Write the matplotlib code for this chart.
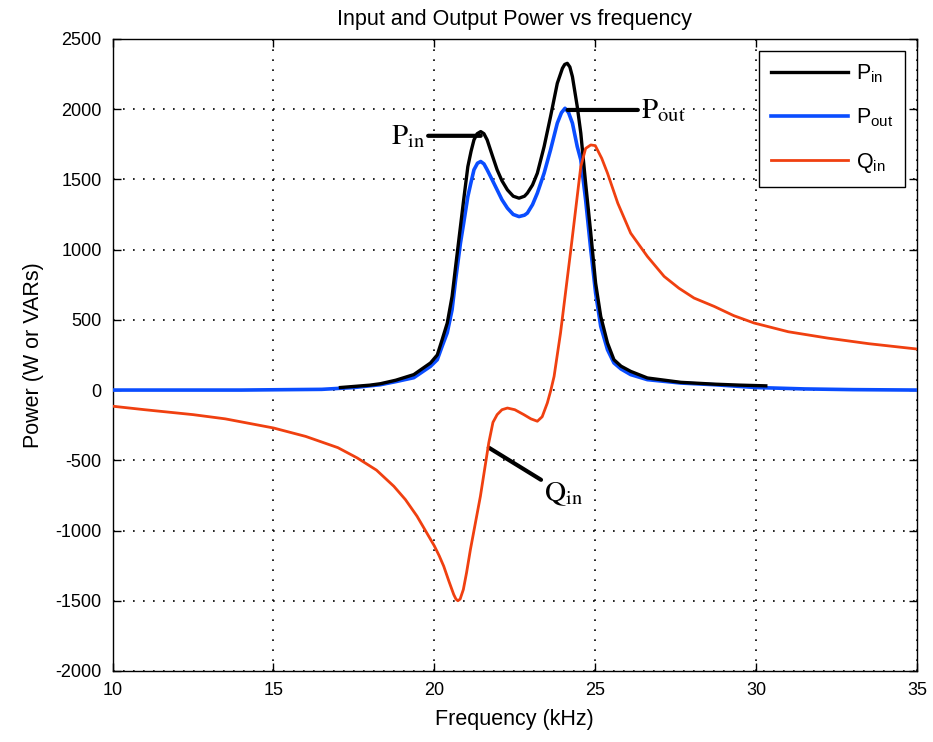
import matplotlib
matplotlib.use("Agg")
import matplotlib.pyplot as plt
from matplotlib import font_manager
from matplotlib.lines import Line2D

# ---------------- data ----------------
pin_freq = [17.08, 18.0, 18.32, 18.8, 19.36, 19.88, 20.09, 20.24, 20.40, 20.55,
            20.66, 20.81, 20.91, 21.04, 21.14, 21.23, 21.33, 21.44, 21.54, 21.64,
            21.80, 21.95, 22.10, 22.27, 22.45, 22.63, 22.80, 22.89, 23.05, 23.20,
            23.41, 23.61, 23.82, 23.98, 24.05, 24.13, 24.21, 24.29, 24.44, 24.55,
            24.70, 24.86, 25.01, 25.17, 25.38, 25.58, 25.80, 26.10, 26.62, 27.66,
            28.70, 29.5, 30.30]
pin_vals = [18, 35, 45, 70, 110, 193, 250, 358, 477, 667,
            880, 1164, 1354, 1591, 1700, 1781, 1825, 1840, 1825, 1781,
            1670, 1568, 1490, 1425, 1380, 1366, 1380, 1402, 1460, 1544,
            1733, 1947, 2184, 2291, 2318, 2326, 2300, 2231, 2018, 1829,
            1473, 1117, 762, 524, 335, 216, 170, 133, 86, 55,
            42, 35, 30]

pout_freq = [10.0, 14.0, 16.5, 17.5, 18.32, 18.8, 19.36, 19.88, 20.09, 20.24,
             20.40, 20.55, 20.66, 20.81, 20.91, 21.04, 21.14, 21.23, 21.34, 21.44,
             21.54, 21.64, 21.80, 21.95, 22.10, 22.27, 22.45, 22.63, 22.80, 22.89,
             23.05, 23.20, 23.41, 23.61, 23.82, 23.95, 24.06, 24.17, 24.29, 24.44,
             24.55, 24.70, 24.86, 25.01, 25.17, 25.38, 25.58, 25.80, 26.10, 26.62,
             27.66, 28.70, 30.0, 31.5, 33.0, 35.0]
pout_vals = [0, 0, 5, 18, 38, 60, 88, 169, 216, 311,
             408, 572, 785, 1046, 1188, 1378, 1480, 1568, 1615, 1627,
             1610, 1568, 1495, 1425, 1355, 1295, 1250, 1235, 1245, 1260,
             1320, 1402, 1544, 1710, 1900, 1975, 2006, 1975, 1900, 1733,
             1639, 1354, 999, 691, 453, 287, 193, 150, 110, 74,
             50, 38, 18, 8, 3, 0]

qin_freq = [10.0, 11.0, 12.5, 13.5, 15.0, 16.0, 17.0, 17.6, 18.2, 18.74,
            19.1, 19.46, 19.72, 20.0, 20.15, 20.29, 20.45, 20.6, 20.67, 20.73,
            20.80, 20.90, 21.0, 21.12, 21.43, 21.69, 21.82, 21.95, 22.1, 22.27,
            22.5, 22.78, 23.0, 23.2, 23.35, 23.51, 23.62, 23.72, 23.92, 24.24,
            24.55, 24.70, 24.86, 25.0, 25.2, 25.38, 25.7, 26.1, 26.62, 27.14,
            27.6, 28.07, 28.7, 29.3, 29.94, 31.0, 32.22, 33.5, 35.0]
qin_vals = [-115, -140, -175, -205, -270, -330, -410, -483, -570, -685,
            -780, -898, -1000, -1110, -1180, -1254, -1360, -1455, -1488, -1500,
            -1488, -1420, -1300, -1135, -756, -376, -230, -175, -140, -128,
            -140, -175, -205, -222, -190, -92, 0, 97, 406, 998,
            1591, 1720, 1745, 1740, 1650, 1544, 1330, 1117, 951, 809,
            725, 655, 595, 530, 477, 415, 370, 330, 292]

x_ticks = [10, 15, 20, 25, 30, 35]
y_ticks = [-2000, -1500, -1000, -500, 0, 500, 1000, 1500, 2000, 2500]

title = "Input and Output Power vs frequency"
xlabel = "Frequency (kHz)"
ylabel = "Power (W or VARs)"
legend_labels = [r"$\mathregular{P_{in}}$", r"$\mathregular{P_{out}}$", r"$\mathregular{Q_{in}}$"]

# ---------------- style ----------------
names = {f.name for f in font_manager.fontManager.ttflist}
sans = "Liberation Sans" if "Liberation Sans" in names else "DejaVu Sans"
plt.rcParams["font.family"] = [sans, "DejaVu Sans"]
plt.rcParams["mathtext.fontset"] = "custom"
plt.rcParams["mathtext.rm"] = sans
plt.rcParams["mathtext.it"] = sans
plt.rcParams["axes.unicode_minus"] = False

c_pin = "#000000"
c_pout = "#0a4dff"
c_qin = "#f04010"

fig = plt.figure(figsize=(9.33, 7.42), dpi=100)
ax = fig.add_axes([0.1207, 0.0957, 0.8622, 0.8519])

ax.plot(pout_freq, pout_vals, color=c_pout, lw=2.6, zorder=3)
ax.plot(pin_freq, pin_vals, color=c_pin, lw=2.4, zorder=4)
ax.plot(qin_freq, qin_vals, color=c_qin, lw=2.0, zorder=5)

ax.set_xlim(10, 35)
ax.set_ylim(-2000, 2500)
ax.set_xticks(x_ticks)
ax.set_yticks(y_ticks)
ax.tick_params(direction="in", top=True, right=True, length=6, width=1,
               labelsize=13, pad=8)
ax.grid(True, color="black", linestyle=(0, (1, 5)), linewidth=1.2)
for s in ax.spines.values():
    s.set_linewidth(1.0)

ax.set_title(title, fontsize=15.5, pad=10)
ax.set_xlabel(xlabel, fontsize=15.5, labelpad=7)
ax.set_ylabel(ylabel, fontsize=15.5, labelpad=8)

handles = [Line2D([], [], color=c_pin, lw=2.4),
           Line2D([], [], color=c_pout, lw=2.6),
           Line2D([], [], color=c_qin, lw=2.0)]
leg = ax.legend(handles, legend_labels, loc="upper right", fontsize=15.5,
                handlelength=3.6, labelspacing=1.0, borderpad=0.55,
                handletextpad=0.35, fancybox=False, framealpha=1,
                edgecolor="black", borderaxespad=0.55)
leg.get_frame().set_linewidth(1.0)

# annotations (serif labels with leader lines)
serif_kw = dict(fontsize=21, math_fontfamily="stix", color="black")
arrow = dict(arrowstyle="-", color="black", lw=3, shrinkA=0, shrinkB=0)
ax.annotate(r"$\mathrm{P_{in}}$", xy=(21.44, 1810), xytext=(19.72, 1810),
            ha="right", va="center", arrowprops=arrow, **serif_kw)
ax.annotate(r"$\mathrm{P_{out}}$", xy=(24.14, 1994), xytext=(26.41, 1994),
            ha="left", va="center", arrowprops=arrow, **serif_kw)
ax.annotate(r"$\mathrm{Q_{in}}$", xy=(21.69, -410), xytext=(23.40, -637),
            ha="left", va="top", arrowprops=arrow, **serif_kw)

fig.savefig("out.png", dpi=100)
